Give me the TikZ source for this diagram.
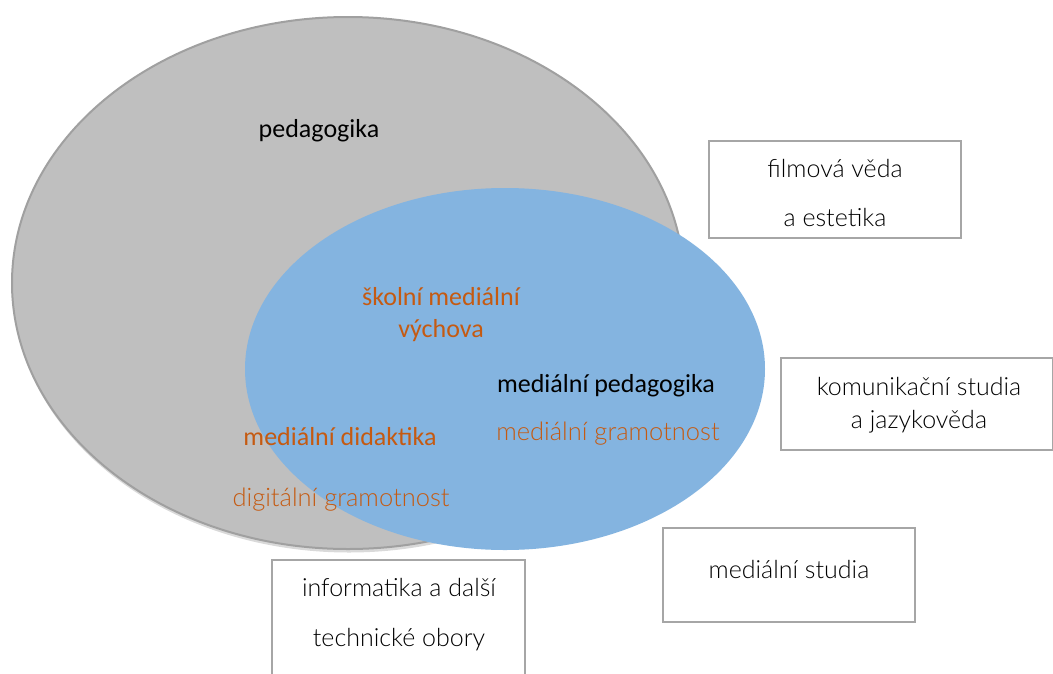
\documentclass[tikz,border=0pt]{standalone}
\usepackage{fontspec}
\setmainfont{Carlito}
\newfontfamily\lightfont{Lato}[UprightFont=* Light]
\usetikzlibrary{shapes.geometric}
\definecolor{pedgray}{HTML}{BFBFBF}
\definecolor{pedline}{HTML}{A0A0A0}
\definecolor{medblue}{HTML}{84B4E0}
\definecolor{txtorange}{HTML}{C55A11}
\definecolor{boxline}{HTML}{A6A6A6}
\definecolor{boxtext}{HTML}{000000}
\begin{document}
\begin{tikzpicture}[x=1pt,y=-1pt,
  lbl/.style={inner sep=0pt, font=\fontsize{26}{32}\selectfont},
  orangelbl/.style={lbl, text=txtorange},
  lightlbl/.style={inner sep=0pt, text=txtorange, font=\lightfont\fontsize{25.5}{32}\selectfont},
  areabox/.style={draw=boxline, line width=1.3pt, fill=white, inner sep=0pt, outer sep=0pt},
  boxlbl/.style={inner sep=0pt, align=center, text=boxtext, font=\lightfont\fontsize{25}{32}\selectfont}
]
\useasboundingbox (0,0) rectangle (1053,673);
\fill[white] (0,0) rectangle (1053,673);

% pedagogika ellipse with soft shadow
\node[ellipse, fill=black, opacity=0.15, inner sep=0pt, minimum width=673, minimum height=533] (pedshadow) at (349,286) {};
\node[ellipse, fill=pedgray, draw=pedline, line width=2pt, inner sep=0pt, minimum width=672, minimum height=532] (ped) at (348,283) {};

% medialni pedagogika ellipse
\node[ellipse, fill=medblue, inner sep=0pt, minimum width=520, minimum height=362] (med) at (505,369) {};

% texts in ellipses
\node[lbl] (tped) at (319,131) {pedagogika};
\node[orangelbl, align=center] (tskol) at (441,315) {školní mediální\\výchova};
\node[lbl] (tmedped) at (606,386) {mediální pedagogika};
\node[lightlbl] (tmedgram) at (608,434) {mediální gramotnost};
\node[orangelbl] (tdid) at (340,437) {mediální didaktika};
\node[lightlbl] (tdig) at (341,500) {digitální gramotnost};

% outer boxes
\draw[areabox] (709,141) rectangle (961,238);
\node[boxlbl, font=\lightfont\fontsize{25}{49}\selectfont] (film) at (835,193) {filmová věda\\a estetika};

\draw[areabox] (781,358) rectangle (1052.3,450);
\node[boxlbl, font=\lightfont\fontsize{25}{33}\selectfont] (kom) at (919,405) {komunikační studia\\a jazykověda};

\draw[areabox] (663,528) rectangle (915,622);
\node[boxlbl] (medst) at (789,569) {mediální studia};

\draw[areabox] (272,560) rectangle (525,690);
\node[boxlbl, font=\lightfont\fontsize{25}{50}\selectfont] (inf) at (399,615) {informatika a další\\technické obory};
\end{tikzpicture}
\end{document}
